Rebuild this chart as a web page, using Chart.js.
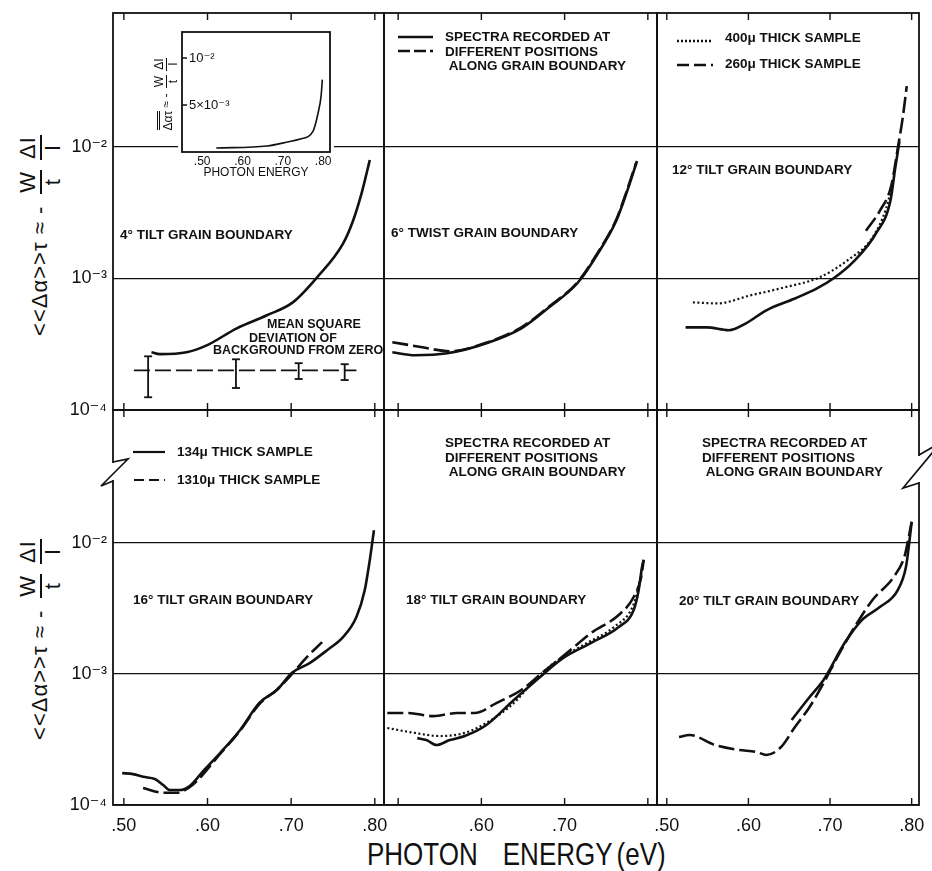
<!DOCTYPE html>
<html>
<head>
<meta charset="utf-8">
<title>Grain boundary absorption spectra</title>
<script src="https://cdn.jsdelivr.net/npm/chart.js@4.4.1/dist/chart.umd.min.js"></script>
<style>
  html, body { margin: 0; padding: 0; background: #fff; }
  #stage { position: relative; width: 932px; height: 871px; overflow: hidden;
           font-family: "Liberation Sans", Arial, sans-serif; color: #111; }
  canvas { position: absolute; }
  .note { position: absolute; font-size: 13.5px; font-weight: bold; line-height: 14.5px; white-space: nowrap; }
  .note.sm { font-size: 12.5px; }
  .ylab { position: absolute; display: flex; align-items: center; justify-content: center;
          transform: rotate(-90deg); white-space: nowrap; font-size: 22px; letter-spacing: 1px; }
  .frac { display: inline-flex; flex-direction: column; align-items: center; line-height: 1; margin: 0 5px; }
  .frac span:first-child { border-bottom: 2px solid #111; padding: 0 1px 1px; }
  .ylab.small { font-size: 12px; letter-spacing: 0; }
  .ylab.small .frac { margin: 0 2px; }
  .ylab.small .frac span:first-child { border-bottom-width: 1px; }
  .xtitle { position: absolute; left: 367px; top: 844px; font-size: 26px; line-height: 26px;
            transform: scaleY(1.18); transform-origin: left bottom; white-space: nowrap; }
  svg.deco { position: absolute; left: 0; top: 0; }
</style>
</head>
<body>
<div id="stage">
  <!-- y axis titles -->
  <div class="ylab" style="left:-80px; top:208px; width:240px; height:50px;">
    &lt;&lt;Δα&gt;&gt;τ&nbsp;≈&nbsp;-&nbsp;<span class="frac"><span>W</span><span>t</span></span><span class="frac"><span>ΔI</span><span>I</span></span>
  </div>
  <div class="ylab" style="left:-80px; top:612px; width:240px; height:50px;">
    &lt;&lt;Δα&gt;&gt;τ&nbsp;≈&nbsp;-&nbsp;<span class="frac"><span>W</span><span>t</span></span><span class="frac"><span>ΔI</span><span>I</span></span>
  </div>
  <div class="xtitle">PHOTON<span style="display:inline-block;width:25px"></span>ENERGY<span style="display:inline-block;width:4px"></span>(eV)</div>
</div>

<script>
// ---- data ----
const energyTicks = [0.5, 0.6, 0.7, 0.8];
const energyLabels = ['.50', '.60', '.70', '.80'];
const decadeTicks = [1e-4, 1e-3, 1e-2];
const decadeLabels = ['10⁻⁴', '10⁻³', '10⁻²'];

// 4° tilt
const p1Energy = [0.533, 0.543, 0.575, 0.599, 0.635, 0.671, 0.702, 0.731, 0.762, 0.774, 0.784, 0.790, 0.794];
const p1Signal = [2.75e-4, 2.66e-4, 2.75e-4, 3.1e-4, 4.18e-4, 5.25e-4, 6.58e-4, 1.02e-3, 1.84e-3, 2.75e-3, 4.4e-3, 6.24e-3, 7.97e-3];
const bgEnergy = [0.529, 0.634, 0.709, 0.764];
const bgLow = [1.25e-4, 1.47e-4, 1.72e-4, 1.69e-4];
const bgHigh = [2.56e-4, 2.43e-4, 2.27e-4, 2.23e-4];
const bgLineEnergy = [0.512, 0.778];
const bgLineLevel = [2.0e-4, 2.0e-4];

// inset (linear scale)
const insetEnergy = [0.535, 0.661, 0.711, 0.743, 0.775, 0.788, 0.795, 0.798];
const insetSignal = [0.00043, 0.00064, 0.00106, 0.00138, 0.00223, 0.00426, 0.006, 0.0077];
const insetTicks = [0.005, 0.01];
const insetTickLabels = ['5×10⁻³', '10⁻²'];

// 6° twist
const p2EnergyA = [0.493, 0.520, 0.559, 0.606, 0.648, 0.681, 0.715, 0.740, 0.762, 0.774, 0.787];
const p2SignalA = [2.75e-4, 2.61e-4, 2.70e-4, 3.22e-4, 4.18e-4, 6.03e-4, 9.16e-4, 1.55e-3, 2.75e-3, 4.40e-3, 7.83e-3];
const p2EnergyB = [0.493, 0.529, 0.562, 0.606, 0.648, 0.681, 0.715, 0.740, 0.762, 0.774, 0.786];
const p2SignalB = [3.28e-4, 3.0e-4, 2.8e-4, 3.25e-4, 4.25e-4, 6.1e-4, 9.3e-4, 1.58e-3, 2.8e-3, 4.5e-3, 7.6e-3];

// 12° tilt
const p3EnergySolid = [0.523, 0.549, 0.576, 0.597, 0.622, 0.657, 0.684, 0.704, 0.730, 0.756, 0.774, 0.780, 0.785];
const p3SignalSolid = [4.25e-4, 4.25e-4, 4.04e-4, 4.56e-4, 5.73e-4, 7.05e-4, 8.4e-4, 1.0e-3, 1.37e-3, 2.19e-3, 3.9e-3, 7.0e-3, 1.1e-2];
const p3Energy400 = [0.532, 0.562, 0.602, 0.644, 0.687, 0.721, 0.752, 0.769, 0.779];
const p3Signal400 = [6.58e-4, 6.47e-4, 7.43e-4, 8.55e-4, 1.02e-3, 1.37e-3, 2.05e-3, 3.45e-3, 6.2e-3];
const p3Energy260 = [0.744, 0.761, 0.775, 0.783, 0.789, 0.794];
const p3Signal260 = [2.31e-3, 3.27e-3, 5.07e-3, 9.8e-3, 1.66e-2, 2.9e-2];

// 16° tilt
const p4Energy134 = [0.498, 0.511, 0.523, 0.537, 0.547, 0.555, 0.567, 0.579, 0.594, 0.615, 0.639, 0.662, 0.683, 0.701, 0.722, 0.743, 0.762, 0.778, 0.788, 0.794, 0.799];
const p4Signal134 = [1.75e-4, 1.72e-4, 1.64e-4, 1.58e-4, 1.42e-4, 1.30e-4, 1.30e-4, 1.40e-4, 1.79e-4, 2.49e-4, 3.74e-4, 6.01e-4, 7.55e-4, 1.02e-3, 1.21e-3, 1.52e-3, 1.91e-3, 2.72e-3, 4.37e-3, 7.4e-3, 1.25e-2];
const p4Energy1310 = [0.523, 0.547, 0.563, 0.582, 0.615, 0.639, 0.662, 0.683, 0.701, 0.719, 0.737];
const p4Signal1310 = [1.35e-4, 1.24e-4, 1.24e-4, 1.42e-4, 2.45e-4, 3.7e-4, 5.9e-4, 7.6e-4, 1.0e-3, 1.35e-3, 1.75e-3];

// 18° tilt
const p5EnergyDash = [0.487, 0.512, 0.542, 0.571, 0.592, 0.618, 0.648, 0.673, 0.703, 0.732, 0.765, 0.783, 0.792, 0.795];
const p5SignalDash = [5.04e-4, 5.04e-4, 4.77e-4, 5.04e-4, 5.04e-4, 6.0e-4, 7.55e-4, 1.02e-3, 1.45e-3, 2.06e-3, 2.82e-3, 3.87e-3, 5.5e-3, 7.4e-3];
const p5EnergyDot = [0.487, 0.520, 0.550, 0.580, 0.606, 0.639, 0.664, 0.690, 0.725, 0.760, 0.782, 0.790, 0.795];
const p5SignalDot = [3.87e-4, 3.55e-4, 3.36e-4, 3.55e-4, 4.23e-4, 6.0e-4, 9.0e-4, 1.25e-3, 1.7e-3, 2.3e-3, 3.3e-3, 5.0e-3, 7.6e-3];
const p5EnergySolid = [0.523, 0.534, 0.546, 0.562, 0.580, 0.606, 0.639, 0.673, 0.698, 0.732, 0.765, 0.783, 0.789, 0.793, 0.795];
const p5SignalSolid = [3.24e-4, 3.13e-4, 2.87e-4, 3.13e-4, 3.36e-4, 4.08e-4, 6.34e-4, 9.8e-4, 1.32e-3, 1.73e-3, 2.28e-3, 3.08e-3, 4.37e-3, 6.56e-3, 7.4e-3];

// 20° tilt
const p6EnergyDash = [0.515, 0.528, 0.559, 0.588, 0.610, 0.622, 0.640, 0.657, 0.675, 0.692, 0.709, 0.730, 0.752, 0.778, 0.791, 0.795, 0.800];
const p6SignalDash = [3.3e-4, 3.42e-4, 2.87e-4, 2.63e-4, 2.54e-4, 2.41e-4, 2.77e-4, 3.94e-4, 5.6e-4, 8.5e-4, 1.35e-3, 2.28e-3, 3.67e-3, 5.5e-3, 7.8e-3, 1.0e-2, 1.45e-2];
const p6EnergySolid = [0.653, 0.675, 0.692, 0.718, 0.739, 0.761, 0.783, 0.793, 0.797, 0.800];
const p6SignalSolid = [4.46e-4, 6.67e-4, 9.0e-4, 1.73e-3, 2.58e-3, 3.24e-3, 4.37e-3, 6.56e-3, 1.0e-2, 1.45e-2];

// ---- drawing ----
const FONT = '"Liberation Sans", Arial, "DejaVu Sans", sans-serif';
const INK = '#111';
const M = 24; // spare room round every chart so overhanging labels never move the plot area

// white card behind the inset (plot box + its axis labels only)
const paper = {
  id: 'paper',
  beforeDraw(chart) {
    const { ctx, chartArea: a } = chart;
    ctx.save();
    ctx.fillStyle = '#fff';
    ctx.fillRect(a.left - 4, a.top - 4, a.right - a.left + 8, a.bottom - a.top + 34);
    ctx.restore();
  }
};

// box round the plot area + tick marks pointing inwards
const frame = {
  id: 'frame',
  afterDraw(chart, args, o) {
    const { ctx, chartArea: a, scales } = chart;
    ctx.save();
    ctx.strokeStyle = INK;
    ctx.lineWidth = 1.8;
    ctx.strokeRect(a.left, a.top, a.right - a.left, a.bottom - a.top);
    ctx.lineWidth = 1.4;
    ctx.beginPath();
    if (o.xTicks) {
      scales.x.ticks.forEach(t => {
        const px = scales.x.getPixelForValue(t.value);
        ctx.moveTo(px, a.bottom); ctx.lineTo(px, a.bottom - o.xTicks);
        ctx.moveTo(px, a.top); ctx.lineTo(px, a.top + o.xTicks);
      });
    }
    if (o.yTicks) {
      scales.y.ticks.forEach(t => {
        const py = scales.y.getPixelForValue(t.value);
        ctx.moveTo(a.left, py); ctx.lineTo(a.left + o.yTicks, py);
      });
    }
    ctx.stroke();
    ctx.restore();
  }
};

// fixed axis size
function fixSize(prop, size) {
  return s => {
    s[prop] = size;
    s.paddingTop = 0; s.paddingBottom = 0; s.paddingLeft = 0; s.paddingRight = 0;
  };
}

function curve(xs, ys, style, width) {
  const ds = {
    data: xs.map((x, i) => ({ x: x, y: ys[i] })),
    borderColor: INK, borderWidth: width || 2.6, pointRadius: 0,
    cubicInterpolationMode: 'monotone', fill: false
  };
  if (style === 'dash') ds.borderDash = [16, 5];
  if (style === 'dot') { ds.borderDash = [2, 2.5]; ds.borderWidth = 2.2; }
  return ds;
}

function errorBars(xs, lo, hi) {
  const data = [];
  xs.forEach((x, i) => {
    data.push({ x: x, y: lo[i] }, { x: x, y: hi[i] }, { x: x, y: null });
  });
  return { data, borderColor: INK, borderWidth: 1.8, tension: 0,
           pointStyle: 'line', pointRadius: 4, pointBorderColor: INK, pointBorderWidth: 1.8 };
}

function makeCanvas(left, top, w, h) {
  const c = document.createElement('canvas');
  c.width = w; c.height = h;
  c.style.left = left + 'px'; c.style.top = top + 'px';
  c.style.width = w + 'px'; c.style.height = h + 'px';
  document.getElementById('stage').appendChild(c);
  return c;
}

function panel(box, xRange, yMax, datasets, opt) {
  const padL = opt.yLabels ? 60 : 0;
  const padB = opt.xLabels ? 30 : 0;
  const hide = opt.hideX || [];
  const c = makeCanvas(box.l - padL - M, box.t - M, box.r - box.l + padL + 2 * M, box.b - box.t + padB + 2 * M);
  return new Chart(c, {
    type: 'line',
    data: { datasets },
    plugins: [frame],
    options: {
      responsive: false, animation: false, events: [],
      layout: { padding: M },
      plugins: { legend: { display: false }, tooltip: { enabled: false }, frame: { xTicks: 7 } },
      scales: {
        x: {
          type: 'linear', min: xRange[0], max: xRange[1],
          afterBuildTicks: s => { s.ticks = energyTicks.map(v => ({ value: v })); },
          afterFit: fixSize('height', padB),
          grid: { display: false }, border: { display: false },
          ticks: {
            display: !!opt.xLabels, autoSkip: false, maxRotation: 0, padding: 2,
            color: INK, font: { family: FONT, size: 18 },
            callback: v => hide.includes(v) ? '' : energyLabels[energyTicks.indexOf(v)]
          }
        },
        y: {
          type: 'logarithmic', min: 1e-4, max: yMax,
          afterBuildTicks: s => { s.ticks = decadeTicks.map(v => ({ value: v })); },
          afterFit: fixSize('width', padL),
          grid: { color: INK, lineWidth: 1.3, drawTicks: false }, border: { display: false },
          ticks: {
            display: !!opt.yLabels, padding: 6, color: INK, font: { family: FONT, size: 18 },
            callback: v => decadeLabels[decadeTicks.indexOf(v)]
          }
        }
      }
    }
  });
}

const TOP_MAX = 0.1045, BOT_MAX = 0.1035;

panel({ l: 113, t: 13, r: 384, b: 410 }, [0.487, 0.811], TOP_MAX, [
  curve(p1Energy, p1Signal, 'solid'),
  curve(bgLineEnergy, bgLineLevel, 'dash', 1.8),
  errorBars(bgEnergy, bgLow, bgHigh)
], { yLabels: true });

panel({ l: 384, t: 13, r: 657, b: 410 }, [0.483, 0.811], TOP_MAX, [
  curve(p2EnergyB, p2SignalB, 'dash'),
  curve(p2EnergyA, p2SignalA, 'solid')
], {});

panel({ l: 657, t: 13, r: 919, b: 410 }, [0.488, 0.809], TOP_MAX, [
  curve(p3Energy400, p3Signal400, 'dot'),
  curve(p3EnergySolid, p3SignalSolid, 'solid'),
  curve(p3Energy260, p3Signal260, 'dash')
], {});

panel({ l: 113, t: 410, r: 384, b: 805 }, [0.487, 0.811], BOT_MAX, [
  curve(p4Energy134, p4Signal134, 'solid'),
  curve(p4Energy1310, p4Signal1310, 'dash')
], { yLabels: true, xLabels: true });

panel({ l: 384, t: 410, r: 657, b: 805 }, [0.483, 0.811], BOT_MAX, [
  curve(p5EnergyDot, p5SignalDot, 'dot'),
  curve(p5EnergySolid, p5SignalSolid, 'solid'),
  curve(p5EnergyDash, p5SignalDash, 'dash')
], { xLabels: true, hideX: [0.5, 0.8] });

panel({ l: 657, t: 410, r: 919, b: 805 }, [0.488, 0.809], BOT_MAX, [
  curve(p6EnergySolid, p6SignalSolid, 'solid'),
  curve(p6EnergyDash, p6SignalDash, 'dash')
], { xLabels: true });

// inset on linear scale: plot box 182..330 x 32..152
const insetCanvas = makeCanvas(182 - M, 32 - M, 148 + 2 * M, 120 + 30 + 2 * M);
new Chart(insetCanvas, {
  type: 'line',
  data: { datasets: [curve(insetEnergy, insetSignal, 'solid', 1.6)] },
  plugins: [paper, frame],
  options: {
    responsive: false, animation: false, events: [],
    layout: { padding: M },
    plugins: { legend: { display: false }, tooltip: { enabled: false }, frame: { yTicks: 5 } },
    scales: {
      x: {
        type: 'linear', min: 0.45, max: 0.817,
        afterBuildTicks: s => { s.ticks = energyTicks.map(v => ({ value: v })); },
        afterFit: fixSize('height', 30),
        grid: { display: false }, border: { display: false },
        ticks: { autoSkip: false, maxRotation: 0, padding: -4, color: INK, font: { family: FONT, size: 12, lineHeight: 1 },
                 callback: v => energyLabels[energyTicks.indexOf(v)] },
        title: { display: true, text: 'PHOTON ENERGY', color: INK, font: { family: FONT, size: 12, lineHeight: 1 },
                 padding: { top: 0, bottom: 3 } }
      },
      y: {
        type: 'linear', min: 0, max: 0.01277,
        afterBuildTicks: s => { s.ticks = insetTicks.map(v => ({ value: v })); },
        afterFit: fixSize('width', 0),
        grid: { display: false }, border: { display: false },
        ticks: { mirror: true, padding: 7, color: INK, font: { family: FONT, size: 13 },
                 callback: v => insetTickLabels[insetTicks.indexOf(v)] }
      }
    }
  }
});

// labels, legend keys and axis breaks
const stage = document.getElementById('stage');
stage.insertAdjacentHTML('beforeend', `
  <div class="ylab small" style="left:114px; top:78px; width:104px; height:30px;">
    <span style="border-top:3px double #111; padding-top:1px;">Δατ</span>&nbsp;≈&nbsp;-&nbsp;<span class="frac"><span>W</span><span>t</span></span><span class="frac"><span>ΔI</span><span>I</span></span>
  </div>
  <div class="note" style="left:120px; top:228px;">4° TILT GRAIN BOUNDARY</div>
  <div class="note sm" style="left:267px; top:317px;">MEAN SQUARE</div>
  <div class="note sm" style="left:249px; top:331px;">DEVIATION OF</div>
  <div class="note sm" style="left:213px; top:343px;">BACKGROUND FROM ZERO</div>
  <div class="note" style="left:445px; top:30px;">SPECTRA RECORDED AT<br>DIFFERENT POSITIONS<br>&nbsp;ALONG GRAIN BOUNDARY</div>
  <div class="note" style="left:391px; top:226px;">6° TWIST GRAIN BOUNDARY</div>
  <div class="note" style="left:725px; top:31px;">400μ THICK SAMPLE</div>
  <div class="note" style="left:725px; top:57px;">260μ THICK SAMPLE</div>
  <div class="note" style="left:672px; top:163px;">12° TILT GRAIN BOUNDARY</div>
  <div class="note" style="left:177px; top:445px;">134μ THICK SAMPLE</div>
  <div class="note" style="left:177px; top:473px;">1310μ THICK SAMPLE</div>
  <div class="note" style="left:133px; top:593px;">16° TILT GRAIN BOUNDARY</div>
  <div class="note" style="left:445px; top:436px;">SPECTRA RECORDED AT<br>DIFFERENT POSITIONS<br>&nbsp;ALONG GRAIN BOUNDARY</div>
  <div class="note" style="left:406px; top:593px;">18° TILT GRAIN BOUNDARY</div>
  <div class="note" style="left:702px; top:436px;">SPECTRA RECORDED AT<br>DIFFERENT POSITIONS<br>&nbsp;ALONG GRAIN BOUNDARY</div>
  <div class="note" style="left:679px; top:594px;">20° TILT GRAIN BOUNDARY</div>
  <svg class="deco" width="932" height="871" fill="none" stroke="#111">
    <line x1="398" y1="37" x2="433" y2="37" stroke-width="2.4"/>
    <line x1="398" y1="51" x2="433" y2="51" stroke-width="2.4" stroke-dasharray="12 4"/>
    <line x1="677" y1="41" x2="713" y2="41" stroke-width="2.4" stroke-dasharray="2 2"/>
    <line x1="677" y1="65" x2="713" y2="65" stroke-width="2.4" stroke-dasharray="12 5"/>
    <line x1="133" y1="452" x2="165" y2="452" stroke-width="2.2"/>
    <line x1="134" y1="480" x2="165" y2="480" stroke-width="2.2" stroke-dasharray="10 5"/>
    <line x1="113" y1="463" x2="113" y2="480" stroke="#fff" stroke-width="5"/>
    <polyline points="113,462 128,459 101,486 113,481" stroke-width="1.7"/>
    <line x1="919" y1="456" x2="919" y2="482" stroke="#fff" stroke-width="5"/>
    <polyline points="919,455 933,447" stroke-width="1.7"/>
    <polyline points="933,452 903,488 919,483" stroke-width="1.7"/>
  </svg>
`);
</script>
</body>
</html>
